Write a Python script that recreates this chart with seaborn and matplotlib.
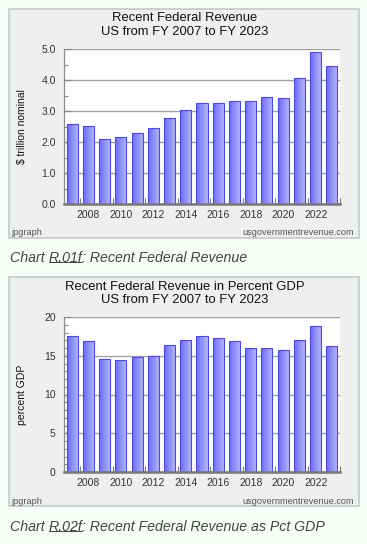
import numpy as np
import pandas as pd
import matplotlib
matplotlib.use("Agg")
import matplotlib.pyplot as plt
import seaborn as sns
from matplotlib.patches import Rectangle
from matplotlib.colors import LinearSegmentedColormap
from matplotlib.ticker import MultipleLocator, FixedLocator

# ---- data ----
years = [2007, 2008, 2009, 2010, 2011, 2012, 2013, 2014, 2015, 2016,
         2017, 2018, 2019, 2020, 2021, 2022, 2023]
revenue_trillion = [2.57, 2.52, 2.10, 2.16, 2.30, 2.45, 2.78, 3.02, 3.25, 3.27,
                    3.32, 3.33, 3.46, 3.42, 4.05, 4.90, 4.44]
revenue_pct_gdp = [17.6, 16.9, 14.6, 14.4, 14.8, 15.0, 16.4, 17.0, 17.6, 17.3,
                   16.9, 16.0, 16.0, 15.8, 17.0, 18.8, 16.2]
titles = [["Recent Federal Revenue", "US from FY 2007 to FY 2023"],
          ["Recent Federal Revenue in Percent GDP", "US from FY 2007 to FY 2023"]]
ylabels = ["$ trillion nominal", "percent GDP"]
captions = [("Chart ", "R.01f", ": Recent Federal Revenue"),
            ("Chart ", "R.02f", ": Recent Federal Revenue as Pct GDP")]

sns.set_theme(style="white")
plt.rcParams['font.family'] = ['Liberation Sans', 'DejaVu Sans']

W, H = 367, 544
fig = plt.figure(figsize=(W / 100, H / 100), dpi=100)
fig.patch.set_facecolor("#f6fdf6")

def fx(x):
    return x / W

def fy(y):
    return 1 - y / H

cmap = LinearSegmentedColormap.from_list("g", ["#6a6af8", "#b8b8ff"])
grad = np.linspace(0, 1, 64).reshape(1, -1)

panels = [
    dict(box=(9, 9, 359, 238), ax=(64, 49, 340, 204), data=revenue_trillion,
         ylim=(0, 5), major=1.0, minor=0.5, fmt="{:.1f}", t1=18, t2=32,
         xl=212, foot=233, cap=258),
    dict(box=(9, 277, 359, 506), ax=(64, 317, 340, 472), data=revenue_pct_gdp,
         ylim=(0, 20), major=5, minor=1, fmt="{:.0f}", t1=287, t2=300,
         xl=480, foot=501, cap=527),
]

for i, p in enumerate(panels):
    x0, y0, x1, y1 = p["box"]
    fig.patches.append(Rectangle((fx(x0), fy(y1)), fx(x1) - fx(x0), fy(y0) - fy(y1),
                                 transform=fig.transFigure, facecolor="#efefef",
                                 edgecolor="#c8c8c8", linewidth=1.2, zorder=-5))
    a0, b0, a1, b1 = p["ax"]
    ax = fig.add_axes([fx(a0), fy(b1), fx(a1) - fx(a0), fy(b0) - fy(b1)])
    ax.set_zorder(2)
    ax.set_facecolor("white")
    df = pd.DataFrame({"year": [str(y) for y in years], "val": p["data"]})
    sns.barplot(data=df, x="year", y="val", ax=ax, width=0.68,
                color="#8888ff", edgecolor="#4a4ae0", linewidth=0.8, zorder=3)
    for bar in ax.patches:
        bx, by = bar.get_x(), bar.get_y()
        bw, bh = bar.get_width(), bar.get_height()
        im = ax.imshow(grad, cmap=cmap, aspect="auto",
                       extent=(bx, bx + bw, by, by + bh), zorder=2.5,
                       interpolation="bilinear")
        im.set_clip_path(bar)
        bar.set_facecolor("none")
    n = len(years)
    ax.set_xlim(-0.5, n - 0.5)
    ax.set_ylim(*p["ylim"])
    ax.set_xlabel("")
    ax.set_ylabel("")
    # grid
    ax.yaxis.set_major_locator(MultipleLocator(p["major"]))
    ax.yaxis.set_minor_locator(MultipleLocator(p["minor"]))
    ax.yaxis.grid(True, which="major", color="#a0a0a0", linewidth=1.0, zorder=1)
    ax.set_axisbelow(True)
    ax.set_yticks(ax.get_yticks())
    ax.set_yticklabels([p["fmt"].format(v) for v in ax.get_yticks()])
    ax.set_ylim(*p["ylim"])
    ax.tick_params(axis="y", which="major", direction="in", length=5, width=0.8,
                   color="#888888", labelsize=7.5, labelcolor="#333333", pad=6,
                   left=True)
    ax.tick_params(axis="y", which="minor", direction="in", length=3, width=0.8,
                   color="#888888", left=True)
    # x ticks: labels at even years, tick marks at bin boundaries
    lab_idx = [k for k, y in enumerate(years) if y % 2 == 0]
    ax.xaxis.set_major_locator(FixedLocator(lab_idx))
    ax.set_xticklabels([str(years[k]) for k in lab_idx])
    ax.xaxis.set_minor_locator(FixedLocator([k - 0.5 for k in lab_idx] + [n - 0.5]))
    ax.tick_params(axis="x", which="major", length=0, labelsize=7.5,
                   labelcolor="#333333", pad=4)
    ax.tick_params(axis="x", which="minor", direction="in", length=4, width=0.8,
                   color="#777777", bottom=True)
    for s in ["top", "right"]:
        ax.spines[s].set_visible(False)
    ax.spines["left"].set_color("#8c8c8c")
    ax.spines["left"].set_linewidth(0.9)
    ax.spines["bottom"].set_color("#777777")
    ax.spines["bottom"].set_linewidth(1.8)
    ax.spines["bottom"].set_zorder(5)
    # texts
    cx = fx(185)
    fig.text(cx, fy(p["t1"]), titles[i][0], ha="center", va="center",
             fontsize=9.4, color="#111111")
    fig.text(cx, fy(p["t2"]), titles[i][1], ha="center", va="center",
             fontsize=9.4, color="#111111")
    fig.text(fx(22), fy((b0 + b1) / 2), ylabels[i], rotation=90, ha="center",
             va="center", fontsize=7.5, color="#111111")
    fig.text(fx(11), fy(p["foot"]), "jpgraph", ha="left", va="center",
             fontsize=6.6, color="#555555")
    fig.text(fx(354), fy(p["foot"]), "usgovernmentrevenue.com", ha="right",
             va="center", fontsize=6.6, color="#555555")

# captions with underlined chart id
fig.canvas.draw()
renderer = fig.canvas.get_renderer()
for i, p in enumerate(panels):
    x = fx(10)
    yc = fy(p["cap"])
    parts = captions[i]
    for j, part in enumerate(parts):
        t = fig.text(x, yc, part, ha="left", va="center", fontsize=10.2,
                     style="italic", color="#444444")
        bb = t.get_window_extent(renderer).transformed(fig.transFigure.inverted())
        if j == 1:
            uy = bb.y0 + 0.2 * (bb.y1 - bb.y0)
            fig.add_artist(plt.Line2D([bb.x0 + 0.002, bb.x1 - 0.002], [uy, uy],
                                      transform=fig.transFigure, color="#444444",
                                      linewidth=0.7))
        x = bb.x1

fig.savefig("out.png", dpi=100, facecolor=fig.get_facecolor())
